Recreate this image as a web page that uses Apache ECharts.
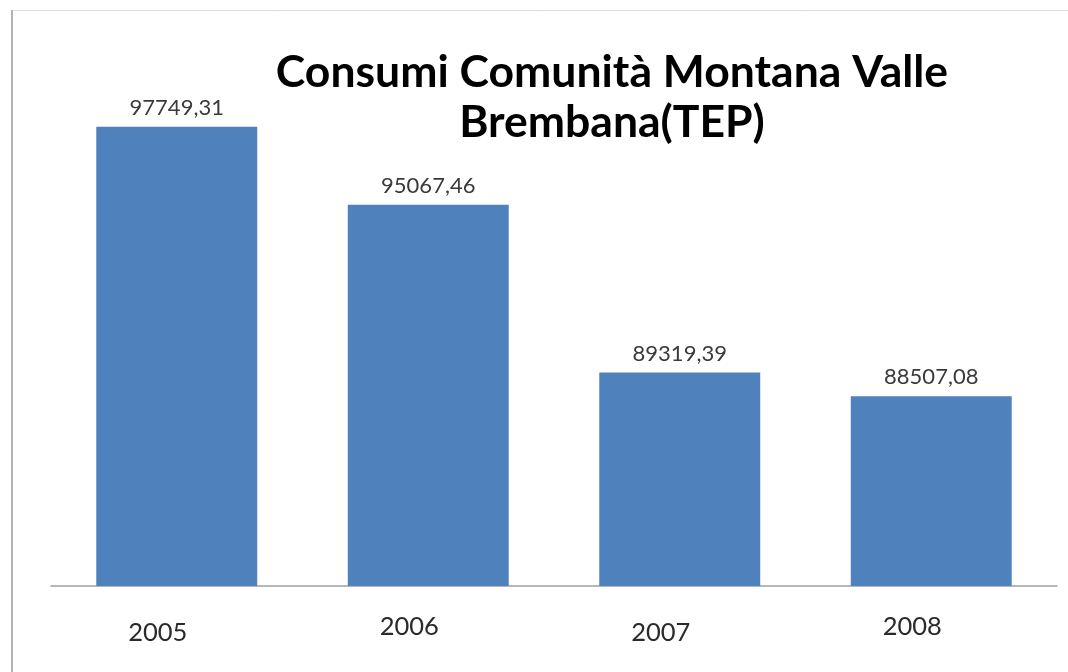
<!DOCTYPE html>
<html><head><meta charset="utf-8">
<script src="https://cdn.jsdelivr.net/npm/echarts@6/dist/echarts.min.js"></script>
<style>html,body{margin:0;padding:0;background:#fff}#c{width:1068px;height:672px}</style>
</head><body><div id="c"></div>
<script>
var categories = ['2005', '2006', '2007', '2008'];
var values = [97749.31, 95067.46, 89319.39, 88507.08];
var titleLines = ['Consumi Comunità Montana Valle', 'Brembana(TEP)'];

var chart = echarts.init(document.getElementById('c'));
var lblBase = { color: '#2a2a2a', fontFamily: 'Lato', fontSize: 25.5 };
chart.setOption({
  animation: false,
  backgroundColor: '#fff',
  title: {
    text: titleLines.join('\n'),
    left: 607, top: 43, textAlign: 'center',
    textStyle: { fontFamily: 'Lato', fontWeight: 'bold', fontSize: 44.5, lineHeight: 50, color: '#000' }
  },
  graphic: [
    { type: 'line', shape: { x1: 12, y1: 10, x2: 12, y2: 672 }, style: { stroke: '#b4b4b4', lineWidth: 2 } },
    { type: 'line', shape: { x1: 13, y1: 10.5, x2: 1068, y2: 10.5 }, style: { stroke: '#dcdcdc', lineWidth: 1 } }
  ],
  grid: { left: 51, right: 11, top: 61, bottom: 86 },
  xAxis: {
    type: 'category', data: categories,
    axisLine: { lineStyle: { color: '#a0a0a0', width: 1.5 } },
    axisTick: { show: false },
    axisLabel: {
      margin: 28,
      formatter: function (v, i) { return (i % 2 === 0 ? '{a|' : '{b|') + v + '}'; },
      rich: {
        a: Object.assign({ padding: [6, 38, 0, 0] }, lblBase),
        b: Object.assign({ padding: [0, 38, 0, 0] }, lblBase)
      }
    }
  },
  yAxis: { type: 'value', min: 82000, max: 100000, show: false, splitLine: { show: false } },
  series: [{
    type: 'bar', data: values, barCategoryGap: '36%',
    itemStyle: { color: '#4f81bd' },
    label: {
      show: true, position: 'top', distance: 8, color: '#3a3a3a', fontFamily: 'Lato', fontSize: 22,
      formatter: function (p) { return p.value.toFixed(2).replace('.', ','); }
    }
  }]
});
</script></body></html>
